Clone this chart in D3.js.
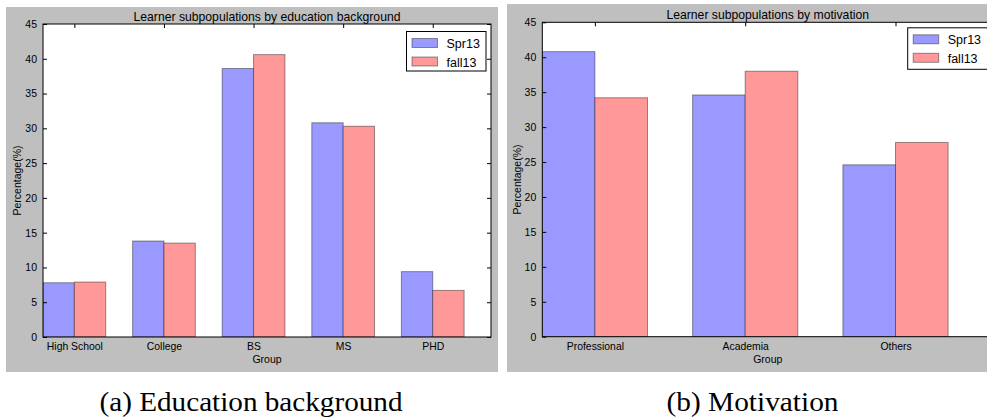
<!DOCTYPE html>
<html>
<head>
<meta charset="utf-8">
<script src="https://cdn.jsdelivr.net/npm/d3@7"></script>
<style>
  html, body { margin: 0; padding: 0; background: #ffffff; }
  svg { display: block; }
  text { font-family: "Liberation Sans", Arial, Helvetica, sans-serif; fill: #000; }
</style>
</head>
<body>
<svg id="chart" width="987" height="417"></svg>
<script>
// ---------- data ----------
const seriesNames = ["Spr13", "fall13"];
const eduCategories = ["High School", "College", "BS", "MS", "PHD"];
const eduSpr13 = [7.8, 13.8, 38.6, 30.8, 9.4];
const eduFall13 = [7.9, 13.5, 40.6, 30.3, 6.7];
const motCategories = ["Professional", "Academia", "Others"];
const motSpr13 = [40.8, 34.6, 24.6];
const motFall13 = [34.2, 38.0, 27.8];
const yTicks = [0, 5, 10, 15, 20, 25, 30, 35, 40, 45];
const titles = ["Learner subpopulations by education background", "Learner subpopulations by motivation"];
const captions = ["(a) Education background", "(b) Motivation"];

// ---------- style ----------
const colors = ["#9999ff", "#ff9999"];
const edge = "rgba(0,0,0,0.4)";
const barWidth = 0.35;

const svg = d3.select("#chart");

function drawPanel(cfg) {
  const g = svg.append("g");
  // gray figure background
  g.append("rect").attr("x", cfg.bg.x).attr("y", cfg.bg.y)
    .attr("width", cfg.bg.w).attr("height", cfg.bg.h).attr("fill", "#bfbfbf");

  const x = d3.scaleLinear().domain([0, cfg.categories.length]).range([cfg.x0, cfg.x1]);
  const y = d3.scaleLinear().domain([0, 45]).range([cfg.y1, cfg.y0]);

  const clipId = "clip" + cfg.id;
  g.append("clipPath").attr("id", clipId).append("rect")
    .attr("x", cfg.x0).attr("y", cfg.y0).attr("width", cfg.x1 - cfg.x0).attr("height", cfg.y1 - cfg.y0);

  // plot area
  g.append("rect").attr("x", cfg.x0).attr("y", cfg.y0)
    .attr("width", cfg.x1 - cfg.x0).attr("height", cfg.y1 - cfg.y0).attr("fill", "#ffffff");

  const bars = g.append("g").attr("clip-path", `url(#${clipId})`);
  const seriesVals = [cfg.spr, cfg.fall];
  seriesVals.forEach((vals, s) => {
    bars.selectAll(null).data(vals).enter().append("rect")
      .attr("x", (d, i) => x(i + s * barWidth))
      .attr("width", (d, i) => x(i + (s + 1) * barWidth) - x(i + s * barWidth))
      .attr("y", d => y(d))
      .attr("height", d => y(0) - y(d))
      .attr("fill", colors[s])
      .attr("stroke", edge).attr("stroke-width", 1);
  });

  const tickPos = cfg.categories.map((c, i) => i + barWidth);

  // left axis with labels (ticks inward)
  const yAxis = g.append("g").attr("transform", `translate(${cfg.x0},0)`)
    .call(d3.axisLeft(y).tickValues(yTicks).tickSize(-4).tickPadding(6).tickSizeOuter(0));
  yAxis.select(".domain").remove();
  yAxis.selectAll("text").style("font-size", "10.5px").attr("font-family", "Liberation Sans, Arial, sans-serif");

  // right axis ticks (no labels)
  const yAxisR = g.append("g").attr("transform", `translate(${cfg.x1},0)`)
    .call(d3.axisRight(y).tickValues(yTicks).tickSize(-4).tickFormat("").tickSizeOuter(0));
  yAxisR.select(".domain").remove();

  // top ticks
  const xTop = g.append("g").attr("transform", `translate(0,${cfg.y0})`)
    .call(d3.axisTop(x).tickValues(tickPos).tickSize(-4).tickFormat("").tickSizeOuter(0));
  xTop.select(".domain").remove();

  // bottom category labels
  const xBot = g.append("g").attr("transform", `translate(0,${cfg.y1})`)
    .call(d3.axisBottom(x).tickValues(tickPos).tickSize(0).tickPadding(6)
      .tickFormat((d, i) => cfg.categories[i]));
  xBot.select(".domain").remove();
  xBot.selectAll("text").style("font-size", "10.4px").attr("font-family", "Liberation Sans, Arial, sans-serif");

  // spines
  g.append("rect").attr("x", cfg.x0).attr("y", cfg.y0)
    .attr("width", cfg.x1 - cfg.x0).attr("height", cfg.y1 - cfg.y0)
    .attr("fill", "none").attr("stroke", "#000").attr("stroke-width", 1);

  // title
  g.append("text").attr("x", (cfg.x0 + cfg.x1) / 2).attr("y", cfg.titleY)
    .attr("text-anchor", "middle").style("font-size", "12.2px").text(cfg.title);

  // x label
  g.append("text").attr("x", (cfg.x0 + cfg.x1) / 2).attr("y", 362.5)
    .attr("text-anchor", "middle").style("font-size", "10.5px").text("Group");

  // y label
  g.append("text")
    .attr("transform", `translate(${cfg.ylabelX},${(cfg.y0 + cfg.y1) / 2}) rotate(-90)`)
    .attr("text-anchor", "middle").style("font-size", "10.5px").text("Percentage(%)");

  // legend
  const lg = g.append("g");
  lg.append("rect").attr("x", cfg.leg.x).attr("y", cfg.leg.y).attr("width", cfg.leg.w).attr("height", cfg.leg.h)
    .attr("fill", "#ffffff").attr("stroke", "#000").attr("stroke-width", 1);
  seriesNames.forEach((name, s) => {
    const py = cfg.leg.y + 7 + s * 18.5;
    lg.append("rect").attr("x", cfg.leg.x + 5.5).attr("y", py).attr("width", 25.5).attr("height", 9)
      .attr("fill", colors[s]).attr("stroke", edge).attr("stroke-width", 1);
    lg.append("text").attr("x", cfg.leg.x + 40).attr("y", py + 9.5)
      .style("font-size", "12.5px").text(name);
  });

  // caption
  svg.append("text").attr("x", cfg.capX).attr("y", 410.5).attr("text-anchor", "middle")
    .attr("textLength", cfg.capW).attr("lengthAdjust", "spacingAndGlyphs")
    .style("font-family", "'Liberation Serif', 'Times New Roman', serif").style("font-size", "27px")
    .text(cfg.caption);
}

drawPanel({
  id: "a", categories: eduCategories, spr: eduSpr13, fall: eduFall13,
  bg: { x: 6, y: 7, w: 492, h: 365 },
  x0: 43, x1: 491, y0: 24, y1: 337,
  title: titles[0], titleY: 20.5, ylabelX: 21,
  leg: { x: 406.5, y: 31.5, w: 79.5, h: 39.5 },
  caption: captions[0], capX: 251, capW: 303
});

drawPanel({
  id: "b", categories: motCategories, spr: motSpr13, fall: motFall13,
  bg: { x: 507, y: 4, w: 490, h: 368 },
  x0: 542.3, x1: 993.2, y0: 22.3, y1: 336.7,
  title: titles[1], titleY: 18.5, ylabelX: 520.5,
  leg: { x: 907.7, y: 27.8, w: 90, h: 41.5 },
  caption: captions[1], capX: 752.5, capW: 172
});
</script>
</body>
</html>
